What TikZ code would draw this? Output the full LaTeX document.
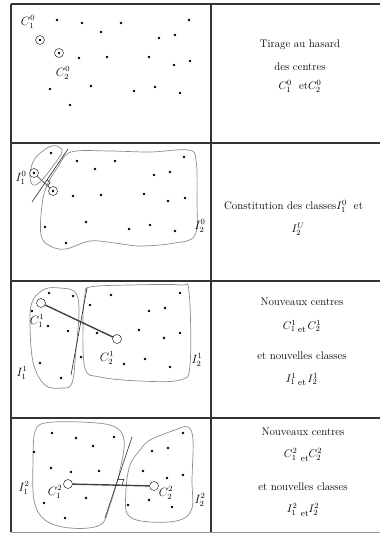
\documentclass[tikz,border=0pt]{standalone}
\usepackage{amsmath}
\usetikzlibrary{positioning}
\begin{document}
\begin{tikzpicture}[x=1pt, y=-1pt, font=\fontsize{11}{13}\selectfont,
  frame/.style={draw=black!80, line width=1.1pt},
  zone/.style={draw=black!45, line width=0.7pt},
  sep/.style={draw=black!85, line width=0.6pt},
  seg/.style={draw=black!75, line width=1.4pt},
  pt/.style={circle, fill, inner sep=0pt, minimum size=2.8pt},
  ctr/.style={circle, draw, thin, inner sep=0pt, minimum size=9pt, fill=white},
  lab/.style={inner sep=1pt, font=\large}]
  \useasboundingbox (0,0) rectangle (380,533);

  % table
  \draw[frame] (11,4) -- (380,4);
  \draw[frame] (11,4) -- (11,532);
  \draw[frame] (211,4) -- (211,532);
  \draw[frame] (11,143) -- (380,143);
  \draw[frame] (11,281) -- (380,281);
  \draw[frame] (11,418) -- (380,418);
  \draw[black!40, line width=0.6pt] (11,532) -- (380,532);

  % 1: random centres
  \foreach \p [count=\i] in {(57,20),(82,23),(121,23),(189,20),(101,32),(159,38),(175,35),
      (79,58),(107,57),(149,57),(174,65),(190,61),(50,89),(91,86),(134,91),(155,87),
      (180,93),(70,105)}
    \node[pt] (a\i) at \p {};
  \node[ctr] (cA1) at (40,40) {};  \node[pt] (dA1) at (cA1) {};
  \node[ctr] (cA2) at (59,53) {};  \node[pt] (dA2) at (cA2) {};
  \node[lab] (lA1) at (28,22) {$C_1^0$};
  \node[lab] (lA2) at (63,73) {$C_2^0$};

  % 2: first classes
  \draw[zone] plot[smooth cycle, tension=0.6] coordinates
    {(30,176) (34,160) (47,148) (57,146) (62,152) (53,166) (41,181) (33,185)};
  \draw[zone] plot[smooth cycle, tension=0.6] coordinates
    {(71,152) (58,167) (47,185) (42,205) (41,235) (50,246) (66,249) (90,241)
     (115,243) (140,246) (175,243) (195,235) (197,200) (196,160) (188,150)
     (150,152) (110,151)};
  \foreach \p [count=\i] in {(51,153),(77,161),(115,161),(184,157),(95,169),(154,175),
      (170,172),(73,196),(101,195),(144,194),(168,201),(185,198),(45,227),(86,222),
      (129,229),(150,225),(175,231),(66,243)}
    \node[pt] (b\i) at \p {};
  \node[ctr] (cB1) at (34,173) {};  \node[pt] (dB1) at (cB1) {};
  \node[ctr] (cB2) at (53,191) {};  \node[pt] (dB2) at (cB2) {};
  \draw[thin] (cB1) -- (cB2);
  \draw[sep] (32,202) -- (68,149);
  \draw[thin] (47.9,185.8) -- (50.1,182.5) -- (47.2,179.7);
  \node[lab] (lB1) at (21,178) {$I_1^0$};
  \node[lab] (lB2) at (200,226) {$I_2^0$};

  % 3: new centres
  \draw[zone] plot[smooth cycle, tension=0.6] coordinates
    {(60,288) (75,292) (79,310) (76,350) (72,383) (62,388) (45,385) (33,362)
     (30,320) (33,300) (45,289)};
  \draw[zone] plot[smooth cycle, tension=0.6] coordinates
    {(90,287) (130,285) (180,285) (189,292) (190,365) (180,380) (140,381)
     (100,377) (85,368) (83,320) (85,295)};
  \draw[sep] (87,288) -- (71,375);
  \foreach \p [count=\i] in {(49,293),(73,296),(111,295),(180,293),(32,311),(90,305),
      (149,311),(165,308),(48,326),(68,331),(97,333),(139,330),(164,338),(180,333),
      (81,357),(124,364),(145,359),(170,367),(40,363),(61,378)}
    \node[pt] (c\i) at \p {};
  \node[ctr] (cC1) at (41,303) {};
  \node[ctr] (cC2) at (117,339) {};
  \draw[seg] (cC1) -- (cC2);
  \node[lab] (lC1) at (37,321) {$C_1^1$};
  \node[lab] (lC2) at (107,358) {$C_2^1$};
  \node[lab] (lC3) at (22,373) {$I_1^1$};
  \node[lab] (lC4) at (197,360) {$I_2^1$};

  % 4: next iteration
  \draw[zone] plot[smooth cycle, tension=0.6] coordinates
    {(45,423) (80,422) (113,426) (124,440) (120,470) (110,505) (100,525) (70,528)
     (45,520) (34,500) (33,460) (35,432)};
  \draw[zone] plot[smooth cycle, tension=0.6] coordinates
    {(150,440) (175,430) (188,427) (193,440) (192,480) (192,508) (180,520)
     (150,522) (128,515) (126,490) (130,465) (140,450)};
  \draw[sep] (132,437) -- (105,518);
  \foreach \p [count=\i] in {(52,433),(76,438),(114,437),(183,433),(93,446),(152,451),
      (168,448),(34,452),(51,468),(71,472),(99,471),(143,471),(167,478),(183,475),
      (86,498),(128,505),(149,500),(172,507),(44,503),(65,518)}
    \node[pt] (d\i) at \p {};
  \node[ctr] (cD1) at (68,484) {};
  \node[ctr] (cD2) at (154,486) {};
  \draw[seg] (cD1) -- (cD2);
  \draw[thin] (122,485) -- (123.9,479.3) -- (117.9,479.3);
  \node[lab] (lD1) at (24,488) {$I_1^2$};
  \node[lab] (lD2) at (55,492) {$C_1^2$};
  \node[lab] (lD3) at (166,493) {$C_2^2$};
  \node[lab] (lD4) at (200,500) {$I_2^2$};

  % captions
  \node (tA1) at (300,45) {Tirage au hasard};
  \node (tA2) at (300,67) {des centres};
  \node (tA3) at (300,86) {$C_1^0$\ \ et$C_2^0$};
  \node[anchor=west, inner sep=0pt] (tB1) at (224,206) {Constitution des classes$I_1^0$\ \ et};
  \node (tB2) at (298,229) {$I_2^U$};
  \node (tC1) at (302,302) {Nouveaux centres};
  \node (tC2) at (302,326) {$C_1^1$\,\raisebox{-3pt}{\small et}\,$C_2^1$};
  \node (tC3) at (302,356) {et nouvelles classes};
  \node (tC4) at (302,379) {$I_1^1$\,\raisebox{-3pt}{\small et}\,$I_2^1$};
  \node (tD1) at (303,432) {Nouveaux centres};
  \node (tD2) at (303,455) {$C_1^2$\ \raisebox{-4pt}{\small et}$C_2^2$};
  \node (tD3) at (303,487) {et nouvelles classes};
  \node (tD4) at (303,510) {$I_1^2$\ \raisebox{-4pt}{\small et}$I_2^2$};
\end{tikzpicture}
\end{document}
